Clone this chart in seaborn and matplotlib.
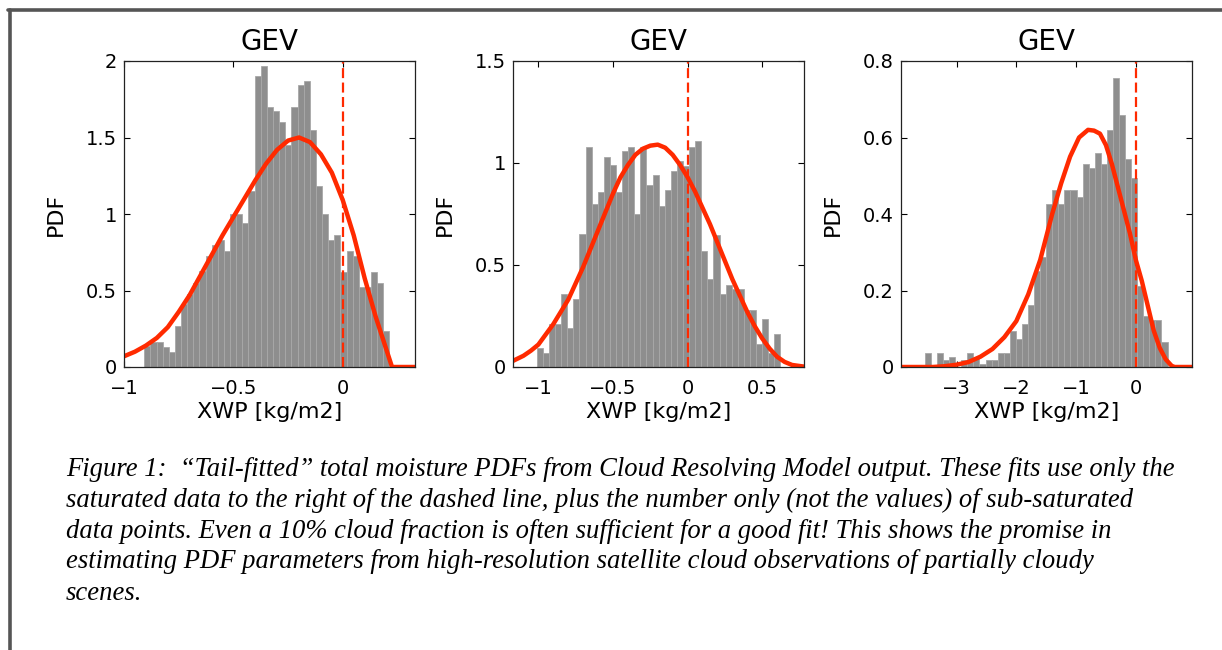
import numpy as np
import pandas as pd
import matplotlib
matplotlib.use("Agg")
import matplotlib.pyplot as plt
from matplotlib.lines import Line2D
from matplotlib.ticker import FuncFormatter
import seaborn as sns

# histogram bins (start, width) and bar heights
bin_start = [-0.907, -1.01, -3.53]
bin_width = [0.028, 0.0408, 0.1015]

pdf_a = [0.135, 0.166, 0.166, 0.133, 0.096, 0.27, 0.41, 0.48, 0.55, 0.63,
         0.725, 0.795, 0.83, 0.76, 1.0, 1.0, 0.94, 1.15, 1.90, 1.97,
         1.70, 1.67, 1.60, 1.45, 1.70, 1.84, 1.87, 1.55, 1.18, 1.00,
         0.83, 0.865, 0.62, 0.76, 0.725, 0.52, 0.52, 0.62, 0.55, 0.235]
pdf_b = [0.093, 0.069, 0.21, 0.21, 0.356, 0.19, 0.335, 0.65, 1.08, 0.80,
         0.86, 1.03, 0.99, 0.86, 1.06, 1.08, 0.75, 1.08, 0.89, 0.94,
         0.79, 0.87, 0.96, 1.01, 0.985, 1.08, 1.11, 0.57, 0.43, 0.645,
         0.356, 0.40, 0.38, 0.38, 0.28, 0.28, 0.115, 0.237, 0.069, 0.163]
pdf_c = [0.037, 0.0, 0.037, 0.017, 0.026, 0.0, 0.017, 0.037, 0.026, 0.009,
         0.017, 0.017, 0.037, 0.037, 0.093, 0.074, 0.113, 0.163, 0.25, 0.288,
         0.425, 0.464, 0.425, 0.464, 0.464, 0.444, 0.53, 0.52, 0.56, 0.53,
         0.62, 0.755, 0.658, 0.545, 0.494, 0.212, 0.133, 0.124, 0.124, 0.065]

# fitted GEV curves
fit_a_x = [-1.00, -0.95, -0.90, -0.85, -0.80, -0.75, -0.70, -0.65, -0.60, -0.55,
           -0.50, -0.45, -0.40, -0.35, -0.30, -0.25, -0.20, -0.15, -0.10, -0.05,
           0.00, 0.05, 0.10, 0.15, 0.20, 0.225, 0.33]
fit_a_y = [0.07, 0.10, 0.14, 0.19, 0.26, 0.36, 0.47, 0.60, 0.73, 0.86,
           0.98, 1.10, 1.22, 1.33, 1.42, 1.48, 1.50, 1.47, 1.39, 1.27,
           1.09, 0.86, 0.58, 0.33, 0.11, 0.0, 0.0]
fit_b_x = [-1.17, -1.10, -1.05, -1.00, -0.95, -0.90, -0.85, -0.80, -0.75, -0.70,
           -0.65, -0.60, -0.55, -0.50, -0.45, -0.40, -0.35, -0.30, -0.25, -0.20,
           -0.15, -0.10, -0.05, 0.00, 0.05, 0.10, 0.15, 0.20, 0.25, 0.30,
           0.35, 0.40, 0.45, 0.50, 0.55, 0.60, 0.65, 0.70, 0.78]
fit_b_y = [0.03, 0.055, 0.08, 0.11, 0.16, 0.21, 0.27, 0.33, 0.41, 0.49,
           0.58, 0.67, 0.76, 0.85, 0.93, 0.99, 1.04, 1.07, 1.085, 1.09,
           1.075, 1.04, 0.99, 0.93, 0.86, 0.78, 0.70, 0.61, 0.52, 0.43,
           0.35, 0.27, 0.20, 0.14, 0.09, 0.05, 0.025, 0.01, 0.002]
fit_c_x = [-3.93, -3.40, -3.20, -3.00, -2.80, -2.60, -2.40, -2.20, -2.00, -1.80,
           -1.60, -1.40, -1.25, -1.10, -0.95, -0.80, -0.70, -0.60, -0.50, -0.40,
           -0.30, -0.20, -0.10, 0.00, 0.10, 0.20, 0.30, 0.40, 0.50, 0.60,
           0.65, 0.94]
fit_c_y = [0.0, 0.0, 0.002, 0.006, 0.013, 0.027, 0.047, 0.078, 0.12, 0.19,
           0.28, 0.40, 0.48, 0.55, 0.60, 0.62, 0.618, 0.61, 0.58, 0.53,
           0.47, 0.41, 0.35, 0.28, 0.225, 0.16, 0.095, 0.05, 0.02, 0.003,
           0.0, 0.0]

xlims = [(-1.0, 0.33), (-1.17, 0.78), (-3.93, 0.94)]
ylims = [(0, 2), (0, 1.5), (0, 0.8)]
xticks = [[-1, -0.5, 0], [-1, -0.5, 0, 0.5], [-3, -2, -1, 0]]
yticks = [[0, 0.5, 1, 1.5, 2], [0, 0.5, 1, 1.5], [0, 0.2, 0.4, 0.6, 0.8]]

caption = [
    "Figure 1:  \u201cTail-fitted\u201d total moisture PDFs from Cloud Resolving Model output. These fits use only the",
    "saturated data to the right of the dashed line, plus the number only (not the values) of sub-saturated",
    "data points. Even a 10% cloud fraction is often sufficient for a good fit! This shows the promise in",
    "estimating PDF parameters from high-resolution satellite cloud observations of partially cloudy",
    "scenes.",
]

sns.set_style("ticks")
plt.rcParams["font.family"] = ["DejaVu Sans"]
plt.rcParams["text.color"] = "black"
plt.rcParams["axes.labelcolor"] = "black"

fig = plt.figure(figsize=(12.22, 6.5), dpi=100)
W, H = 1222, 650
lefts = [124, 513, 901]

fmt = FuncFormatter(lambda v, p: f"{v:g}".replace("-", "\u2212"))

panels = [(pdf_a, fit_a_x, fit_a_y), (pdf_b, fit_b_x, fit_b_y), (pdf_c, fit_c_x, fit_c_y)]
for i, (heights, fx, fy) in enumerate(panels):
    ax = fig.add_axes([lefts[i] / W, 1 - 367 / H, 291 / W, 306 / H])
    edges = [bin_start[i] + bin_width[i] * k for k in range(len(heights) + 1)]
    centers = [(a + b) / 2 for a, b in zip(edges[:-1], edges[1:])]
    df = pd.DataFrame({"xwp": centers, "pdf": heights})
    sns.histplot(data=df, x="xwp", weights="pdf", bins=edges, stat="count",
                 color="#8e8e8e", alpha=1, edgecolor="#a8a8a8", linewidth=0.6, ax=ax)
    sns.lineplot(x=fx, y=fy, color="#ff2a00", linewidth=3.2, sort=False,
                 solid_joinstyle="round", ax=ax)
    ax.axvline(0, color="#ff2a00", linewidth=1.6, dashes=(4.5, 2))
    ax.set_xlim(*xlims[i])
    ax.set_ylim(*ylims[i])
    ax.set_xticks(xticks[i])
    ax.set_yticks(yticks[i])
    ax.xaxis.set_major_formatter(fmt)
    ax.yaxis.set_major_formatter(fmt)
    ax.tick_params(direction="in", top=True, right=True, length=4, width=0.8,
                   labelsize=14, colors="black")
    ax.tick_params(axis="x", pad=9)
    ax.tick_params(axis="y", pad=5)
    for s in ax.spines.values():
        s.set_linewidth(0.9)
        s.set_color("#222222")
    ax.set_title("GEV", fontsize=20, pad=8, color="black")
    ax.set_xlabel("XWP [kg/m2]", fontsize=16)
    ax.set_ylabel("PDF", fontsize=16)
    ax.xaxis.set_label_coords(0.5, -0.115)
    ax.yaxis.set_label_coords(-0.2, 0.5)

# page frame around the figure
fig.add_artist(Line2D([8 / W, 1], [1 - 10 / H, 1 - 10 / H], transform=fig.transFigure,
                      color="#555555", linewidth=2.6))
fig.add_artist(Line2D([9.5 / W, 9.5 / W], [0, 1 - 10 / H], transform=fig.transFigure,
                      color="#555555", linewidth=2.6))

line_y = [469, 500, 531, 562, 594]
for txt, y in zip(caption, line_y):
    fig.text(66 / W, 1 - y / H, txt, fontsize=19.2, fontstyle="italic",
             family="Liberation Serif", va="center", ha="left")

fig.savefig("out.png", dpi=100)
